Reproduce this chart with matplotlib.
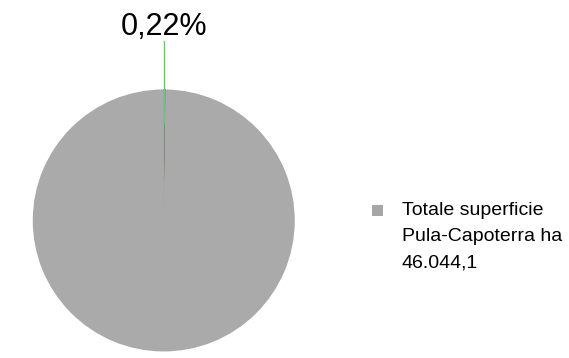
import matplotlib.pyplot as plt
from matplotlib.patches import Rectangle

# Quote della superficie (percentuali)
labels = ['Area', 'Totale superficie\nPula-Capoterra ha\n46.044,1']
values = [0.22, 99.78]
colors = ['#7dbb7d', '#aaaaaa']
label_pct = '0,22%'

W, H = 569, 358
fig = plt.figure(figsize=(W / 100, H / 100), dpi=100)
fig.patch.set_facecolor('white')

# Assi posizionati in pixel: centro torta ~ (164, 220), raggio ~131 px
r_px = 131
ax = fig.add_axes([0, 0, 2.5 * r_px / W, 2.7 * r_px / H])
wedges, _ = ax.pie(values, colors=colors, startangle=90, counterclock=False,
                   wedgeprops=dict(edgecolor='none'))
wedges[0].set_edgecolor('#707a70')
wedges[0].set_linewidth(0.6)
ax.set_xlim(-1.25, 1.25)
ax.set_ylim(-1.05, 1.65)
ax.set_aspect('auto')
ax.axis('off')

# Etichetta della fetta piccola con linea guida
ax.plot([0, 0], [0.75, 1.37], color='#7dbb7d', lw=1.0)
ax.text(0, 1.36, label_pct, ha='center', va='bottom', fontsize=22,
        family=['Liberation Sans', 'DejaVu Sans'])

# Legenda manuale
fig.patches.append(Rectangle((372 / W, 1 - 216 / H), 11 / W, 11 / H,
                             transform=fig.transFigure, facecolor='#a6a6a6',
                             edgecolor='none'))
fig.text(402 / W, 1 - 202 / H, labels[1], ha='left', va='top', fontsize=14,
         linespacing=1.7, family=['Liberation Sans', 'DejaVu Sans'])

fig.savefig('out.png', dpi=100)
